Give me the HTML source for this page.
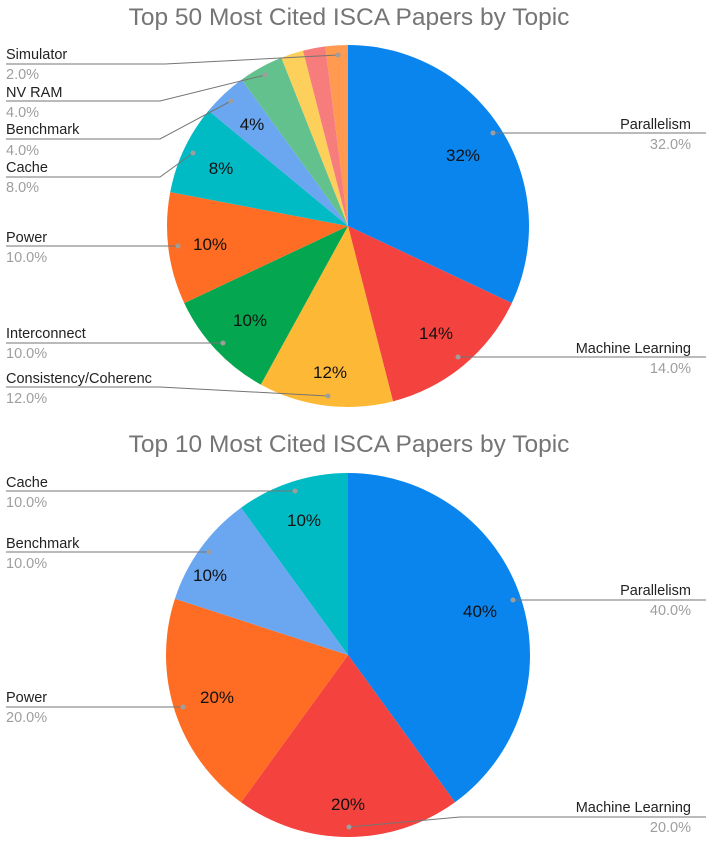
<!DOCTYPE html>
<html><head><meta charset="utf-8"><style>
body{margin:0;background:#fff;}
svg{display:block;font-family:"Liberation Sans",Arial,sans-serif;}
.t{font-size:24.5px;fill:#757575;text-anchor:middle}
.l{font-size:14.5px;fill:#222}
.v{font-size:14.5px;fill:#9e9e9e}
.p{font-size:17px;fill:#111;text-anchor:middle}
.ln{stroke:#757575;stroke-width:1;fill:none}
.d{fill:#9e9e9e}
</style></head><body>
<svg id="s" width="712" height="843" viewBox="0 0 712 843">
<g id="pies"></g>
<text class="t" x="349" y="25">Top 50 Most Cited ISCA Papers by Topic</text>
<text class="t" x="349" y="452">Top 10 Most Cited ISCA Papers by Topic</text>
<text class="p" x="463" y="161">32%</text>
<text class="p" x="436" y="339">14%</text>
<text class="p" x="330" y="378">12%</text>
<text class="p" x="250" y="326">10%</text>
<text class="p" x="210" y="250">10%</text>
<text class="p" x="221" y="174">8%</text>
<text class="p" x="252" y="130">4%</text>
<text class="l" x="6" y="59">Simulator</text><text class="v" x="6" y="79">2.0%</text>
<path class="ln" d="M6 64H165L338 55"/><circle class="d" cx="338" cy="55" r="2.5"/>
<text class="l" x="6" y="97">NV RAM</text><text class="v" x="6" y="117">4.0%</text>
<path class="ln" d="M6 101H160L265 75"/><circle class="d" cx="265" cy="75" r="2.5"/>
<text class="l" x="6" y="134">Benchmark</text><text class="v" x="6" y="155">4.0%</text>
<path class="ln" d="M6 139H160L231 101"/><circle class="d" cx="231" cy="101" r="2.5"/>
<text class="l" x="6" y="172">Cache</text><text class="v" x="6" y="192">8.0%</text>
<path class="ln" d="M6 177H160L193 153"/><circle class="d" cx="193" cy="153" r="2.5"/>
<text class="l" x="6" y="242">Power</text><text class="v" x="6" y="262">10.0%</text>
<path class="ln" d="M6 246H178"/><circle class="d" cx="178" cy="246" r="2.5"/>
<text class="l" x="6" y="338">Interconnect</text><text class="v" x="6" y="358">10.0%</text>
<path class="ln" d="M6 343H223"/><circle class="d" cx="223" cy="343" r="2.5"/>
<text class="l" x="6" y="383">Consistency/Coherenc</text><text class="v" x="6" y="403">12.0%</text>
<path class="ln" d="M6 387H160L328 396"/><circle class="d" cx="328" cy="396" r="2.5"/>
<text class="l" x="691" y="129" text-anchor="end">Parallelism</text><text class="v" x="691" y="149" text-anchor="end">32.0%</text>
<path class="ln" d="M493 133H706"/><circle class="d" cx="493" cy="133" r="2.5"/>
<text class="l" x="691" y="353" text-anchor="end">Machine Learning</text><text class="v" x="691" y="373" text-anchor="end">14.0%</text>
<path class="ln" d="M458 357H706"/><circle class="d" cx="458" cy="357" r="2.5"/>
<text class="p" x="480" y="617">40%</text>
<text class="p" x="348" y="810">20%</text>
<text class="p" x="217" y="703">20%</text>
<text class="p" x="210" y="581">10%</text>
<text class="p" x="304" y="526">10%</text>
<text class="l" x="6" y="487">Cache</text><text class="v" x="6" y="507">10.0%</text>
<path class="ln" d="M6 491H295"/><circle class="d" cx="295" cy="491" r="2.5"/>
<text class="l" x="6" y="548">Benchmark</text><text class="v" x="6" y="568">10.0%</text>
<path class="ln" d="M6 552H209"/><circle class="d" cx="209" cy="552" r="2.5"/>
<text class="l" x="6" y="702">Power</text><text class="v" x="6" y="722">20.0%</text>
<path class="ln" d="M6 707H183"/><circle class="d" cx="183" cy="707" r="2.5"/>
<text class="l" x="691" y="595" text-anchor="end">Parallelism</text><text class="v" x="691" y="615" text-anchor="end">40.0%</text>
<path class="ln" d="M513 600H706"/><circle class="d" cx="513" cy="600" r="2.5"/>
<text class="l" x="691" y="812" text-anchor="end">Machine Learning</text><text class="v" x="691" y="832" text-anchor="end">20.0%</text>
<path class="ln" d="M349 827L460 817H706"/><circle class="d" cx="349" cy="827" r="2.5"/>
</svg>
<script>
function pie(cx,cy,r,data){
  var g=document.getElementById('pies'),a=0,s='';
  data.forEach(function(d){
    var a0=a,a1=a+d[0]/100*2*Math.PI;a=a1;
    var x0=cx+r*Math.sin(a0),y0=cy-r*Math.cos(a0),x1=cx+r*Math.sin(a1),y1=cy-r*Math.cos(a1);
    var large=(a1-a0)>Math.PI?1:0;
    s+='<path fill="'+d[1]+'" d="M'+cx+' '+cy+'L'+x0+' '+y0+'A'+r+' '+r+' 0 '+large+' 1 '+x1+' '+y1+'Z"/>';
  });
  g.insertAdjacentHTML('beforeend',s);
}
pie(348,226,181,[[32,'#0a85ed'],[14,'#f4433f'],[12,'#fdb935'],[10,'#05a650'],[10,'#ff6d24'],[8,'#01bbc4'],[4,'#6aa7f0'],[4,'#62c18c'],[2,'#fdcf5b'],[2,'#f77d7d'],[2,'#ff9a50']]);
pie(348,655,182,[[40,'#0a85ed'],[20,'#f4433f'],[20,'#ff6d24'],[10,'#6aa7f0'],[10,'#01bbc4']]);
</script>
</body></html>
